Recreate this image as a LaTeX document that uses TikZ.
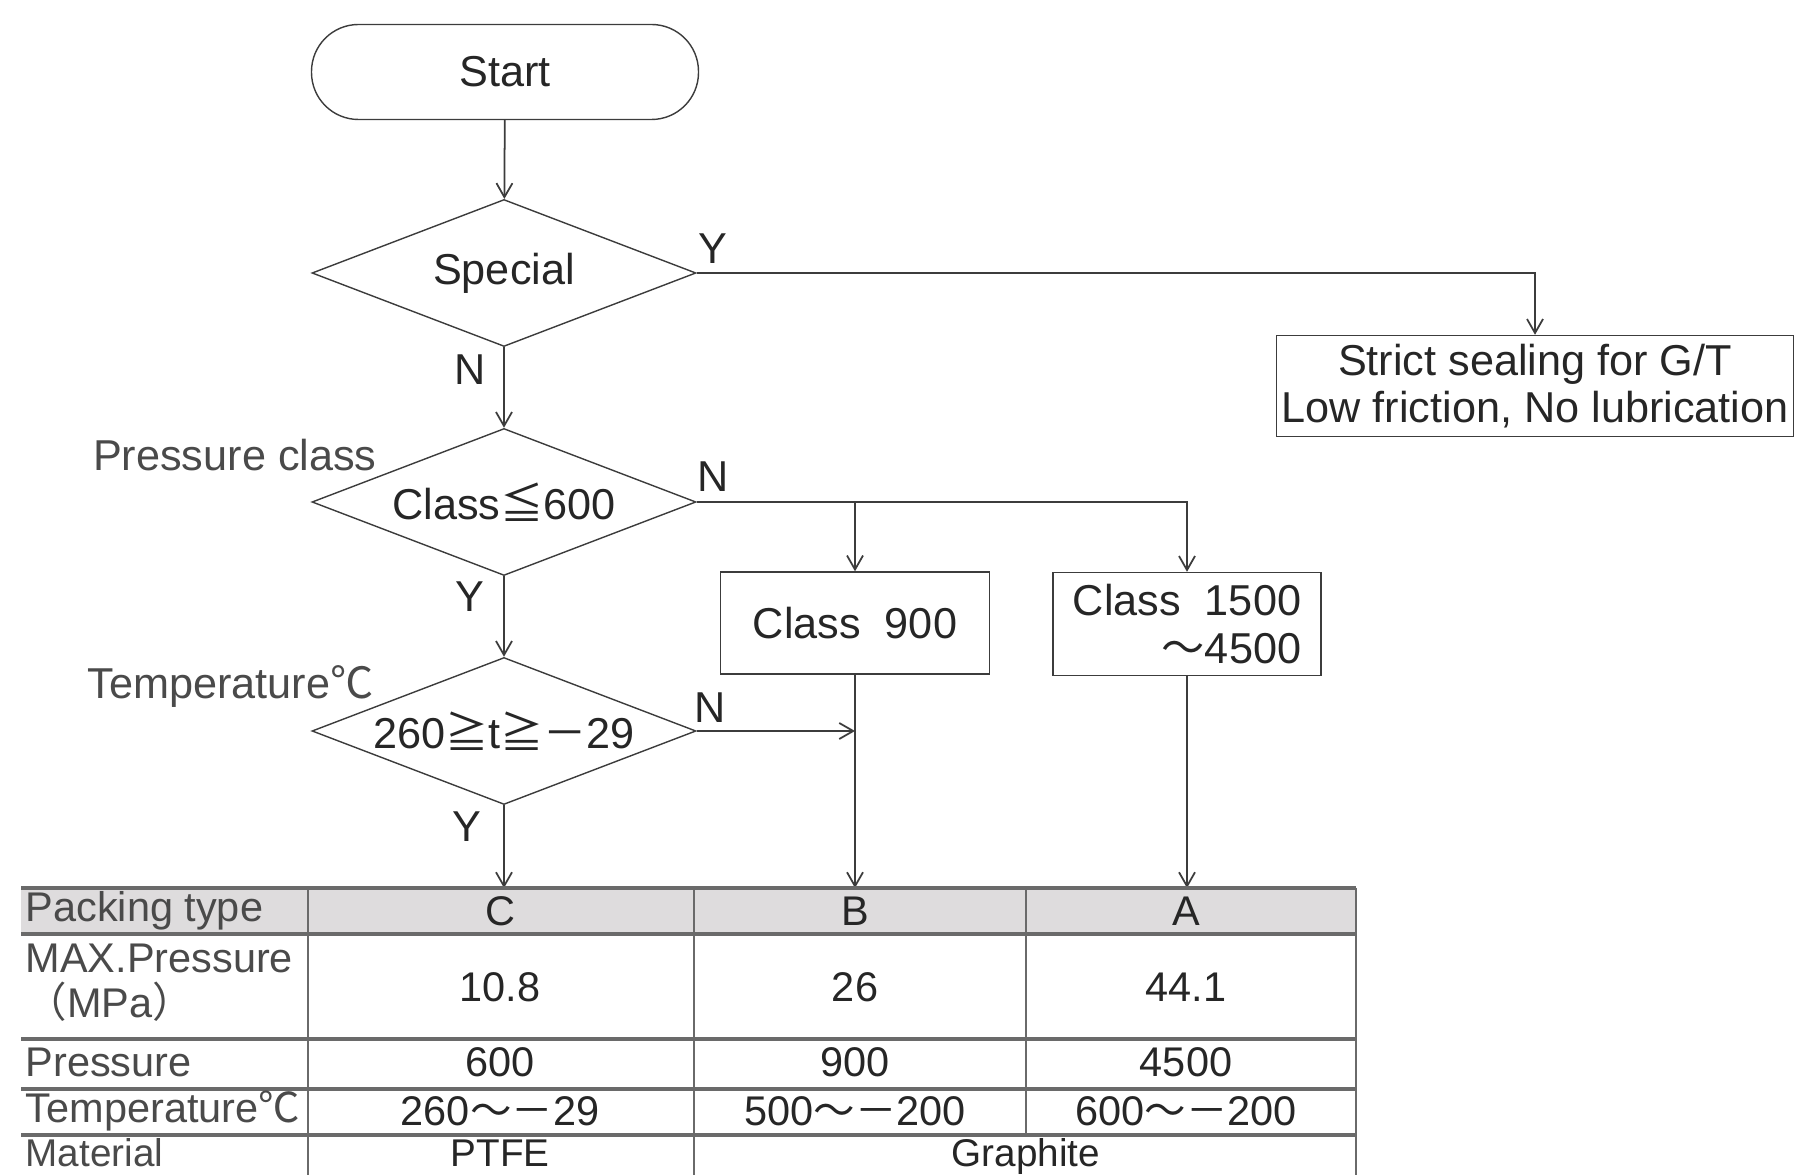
\documentclass[tikz,border=0pt]{standalone}
\usepackage{fontspec}
\setmainfont{Liberation Sans}
\newfontfamily\cjkfont{Noto Sans CJK SC}
\usetikzlibrary{shapes.geometric, arrows.meta, positioning, calc}
\definecolor{flowline}{HTML}{3c3c3c}
\definecolor{tablerule}{HTML}{6a6a6a}
\definecolor{headgray}{HTML}{dedcdd}
\definecolor{labelgray}{HTML}{4a4a4a}
\newcommand{\leqsym}{{\cjkfont ≦}}
\newcommand{\geqsym}{{\cjkfont ≧}}
\newcommand{\wavesym}{{\cjkfont ～}}
\newcommand{\minussym}{{\cjkfont －}}
\newcommand{\celsius}{{\cjkfont ℃}}

\begin{document}
\begin{tikzpicture}[
  x=0.1mm, y=-0.1mm,
  every node/.style={font=\fontsize{12.3}{13.5}\selectfont, text=black!85},
  terminal/.style={draw=flowline, rounded corners=4.7mm, minimum width=38.7mm, minimum height=9.5mm},
  decision/.style={draw=flowline, diamond, shape aspect=2.6, inner sep=0pt, minimum width=38.4mm, minimum height=14.7mm},
  process/.style={draw=flowline, align=center, inner sep=1pt},
  answer/.style={inner sep=1pt},
  flow/.style={draw=flowline, line width=0.5pt, -{Straight Barb[length=1.4mm, width=1.6mm]}},
  link/.style={draw=flowline, line width=0.5pt},
  tablerow/.style={draw=tablerule, line width=1.3pt},
  tablecol/.style={draw=tablerule, line width=0.7pt},
  cell/.style={font=\fontsize{11.8}{12.8}\selectfont, inner sep=0pt},
  rowhead/.style={cell, anchor=west, align=left, text=labelgray}
]
\useasboundingbox (0,0) rectangle (1797,1175);
\clip (0,0) rectangle (1797,1175);

\fill[headgray] (21,888) rectangle (1356,934);

\node[terminal] (start) at (505,72) {Start};
\node[decision] (special) at (504,273) {Special};
\node[decision] (class) at (504,502) {Class\leqsym 600};
\node[decision] (temp) at (504,731) {260\geqsym t\geqsym\minussym 29};
\node[process, minimum width=51.7mm, minimum height=10.1mm] (strict) at (1535,386) {Strict sealing for G/T\\Low friction, No lubrication};
\node[process, minimum width=26.9mm, minimum height=10.2mm] (cls900) at (855,623) {Class\ \ 900};
\node[process, minimum width=26.8mm, minimum height=10.3mm, align=right] (cls1500) at (1187,624) {Class\ \ 1500\\\wavesym 4500};

\node[anchor=east, text=labelgray] (presnote) at (389,455) {Pressure class};
\node[anchor=east, text=labelgray] (tempnote) at (386,686) {Temperature\celsius};

\node[answer] (specialY) at (713,249) {Y};
\node[answer] (specialN) at (470,370) {N};
\node[answer] (classN) at (713,477) {N};
\node[answer] (classY) at (470,597) {Y};
\node[answer] (tempN) at (710,708) {N};
\node[answer] (tempY) at (467,827) {Y};

\coordinate (topC) at (504,888);
\coordinate (topB) at (855,888);
\coordinate (topA) at (1187,888);

\draw[flow] (start) -- (special);
\draw[flow] (special) -- (class);
\draw[flow] (class) -- (temp);
\draw[flow] (special.east) -| (strict.north);
\draw[flow] (class.east) -| (cls1500.north);
\draw[flow] (class.east -| cls900.north) -- (cls900.north);
\draw[flow] (temp.east) -- (temp.east -| cls900.south);
\draw[flow] (temp) -- (topC);
\draw[flow] (cls900) -- (topB);
\draw[flow] (cls1500) -- (topA);

\foreach \y in {888,934,1039,1089,1135}
  \draw[tablerow] (21,\y) -- (1356,\y);
\foreach \x in {308,694,1356}
  \draw[tablecol] (\x,888) -- (\x,1190);
\draw[tablecol] (1026,888) -- (1026,1135);

\node[rowhead] (hpack) at (25,911) {Packing type};
\node[rowhead] (hmax) at (25,983) {MAX.Pressure\\\cjkfont（\rmfamily MPa\cjkfont）};
\node[rowhead] (hpres) at (25,1062) {Pressure};
\node[rowhead] (htemp) at (25,1111) {Temperature\celsius};
\node[rowhead, anchor=base west, font=\fontsize{11}{12}\selectfont] (hmat) at (25,1166) {Material};

\node[cell] (typeC) at (500,911) {C};
\node[cell] (typeB) at (855,911) {B};
\node[cell] (typeA) at (1186,911) {A};
\node[cell] (maxC) at (500,987) {10.8};
\node[cell] (maxB) at (855,987) {26};
\node[cell] (maxA) at (1186,987) {44.1};
\node[cell] (presC) at (500,1062) {600};
\node[cell] (presB) at (855,1062) {900};
\node[cell] (presA) at (1186,1062) {4500};
\node[cell] (tempC) at (500,1111) {260\wavesym\minussym 29};
\node[cell] (tempB) at (855,1111) {500\wavesym\minussym 200};
\node[cell] (tempA) at (1186,1111) {600\wavesym\minussym 200};
\node[cell, anchor=base, font=\fontsize{11}{12}\selectfont] (matC) at (500,1166) {PTFE};
\node[cell, anchor=base, font=\fontsize{11}{12}\selectfont] (matBA) at (1026,1166) {Graphite};
\end{tikzpicture}
\end{document}
